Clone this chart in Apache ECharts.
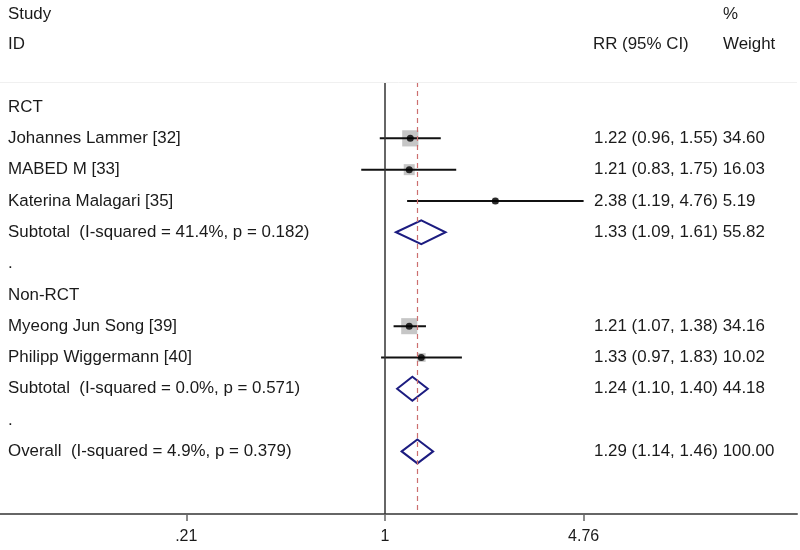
<!DOCTYPE html>
<html><head><meta charset="utf-8">
<script src="https://cdn.jsdelivr.net/npm/echarts@6/dist/echarts.min.js"></script>
<style>html,body{margin:0;padding:0;background:#fff}#c{width:800px;height:550px}</style>
</head><body><div id="c"></div>
<script>
// ---- data ----
const studies = [
  "RCT",
  "Johannes Lammer [32]",
  "MABED M [33]",
  "Katerina Malagari [35]",
  "Subtotal  (I-squared = 41.4%, p = 0.182)",
  ".",
  "Non-RCT",
  "Myeong Jun Song [39]",
  "Philipp Wiggermann [40]",
  "Subtotal  (I-squared = 0.0%, p = 0.571)",
  ".",
  "Overall  (I-squared = 4.9%, p = 0.379)"
];
const rowType = ["group","study","study","study","subtotal","blank","group","study","study","subtotal","blank","overall"];
const rr     = [null, 1.22, 1.21, 2.38, 1.33, null, null, 1.21, 1.33, 1.24, null, 1.29];
const lower  = [null, 0.96, 0.83, 1.19, 1.09, null, null, 1.07, 0.97, 1.10, null, 1.14];
const upper  = [null, 1.55, 1.75, 4.76, 1.61, null, null, 1.38, 1.83, 1.40, null, 1.46];
const weight = [null, 34.60, 16.03, 5.19, 55.82, null, null, 34.16, 10.02, 44.18, null, 100.00];
const overallRR = 1.29;
const tickValues = [0.21, 1, 4.76];
const tickLabels = [".21", "1", "4.76"];

// ---- build ----
const FONT = '"Liberation Sans", Arial, sans-serif';
const FS = 16.9;
const TXT = '#1a1a1a';

const studyIdx = rowType.map((t,i)=>t==='study'?i:-1).filter(i=>i>=0);
const diaIdx = rowType.map((t,i)=>(t==='subtotal'||t==='overall')?i:-1).filter(i=>i>=0);

const ciData = studyIdx.map(i=>[lower[i], upper[i], i]);
const sqData = studyIdx.map(i=>[rr[i], i, weight[i]]);
const dotData = studyIdx.map(i=>[rr[i], i]);
const diaData = diaIdx.map(i=>[lower[i], rr[i], upper[i], i]);
const rightText = studies.map((s,i)=> rr[i]==null ? '' :
  rr[i].toFixed(2)+' ('+lower[i].toFixed(2)+', '+upper[i].toFixed(2)+') '+weight[i].toFixed(2));
const textData = studies.map((s,i)=>[i]);

const chart = echarts.init(document.getElementById('c'), null, {renderer:'canvas'});
chart.setOption({
  animation: false,
  backgroundColor: '#fff',
  grid: {left: 0, right: 3, top: 82, bottom: 36},
  xAxis: {
    type: 'log', logBase: Math.E, min: 0.04862, max: 25.44,
    axisLine: {show: true, onZero: false, lineStyle: {color: '#666', width: 2}},
    axisTick: {show: true, length: 7, lineStyle: {color: '#666', width: 1.5}, customValues: tickValues},
    axisLabel: {show: true, margin: 15, color: TXT, fontSize: 16, fontFamily: FONT,
      customValues: tickValues,
      formatter: v => { const k = tickValues.findIndex(t=>Math.abs(t-v)<1e-6); return k>=0?tickLabels[k]:''; }},
    splitLine: {show: false}, minorTick: {show: false}
  },
  yAxis: {type: 'value', inverse: true, min: -0.8, max: 13.0, show: false},
  graphic: [
    {type:'text', x:8, y:14, style:{text:'Study', fill:TXT, fontSize:FS, fontFamily:FONT, verticalAlign:'middle'}},
    {type:'text', x:8, y:44, style:{text:'ID', fill:TXT, fontSize:FS, fontFamily:FONT, verticalAlign:'middle'}},
    {type:'text', x:723, y:14, style:{text:'%', fill:TXT, fontSize:FS, fontFamily:FONT, verticalAlign:'middle'}},
    {type:'text', x:593, y:44, style:{text:'RR (95% CI)', fill:TXT, fontSize:FS, fontFamily:FONT, verticalAlign:'middle'}},
    {type:'text', x:723, y:44, style:{text:'Weight', fill:TXT, fontSize:FS, fontFamily:FONT, verticalAlign:'middle'}}
  ],
  series: [
    {
      type: 'custom', name: 'ref', data: [], silent: true,
      renderItem: () => null,
      markLine: {
        symbol: 'none', silent: true, label: {show: false},
        data: [
          {xAxis: 1, lineStyle: {color: '#333', width: 1.5, type: 'solid'}},
          {xAxis: overallRR, lineStyle: {color: '#cc6f6f', width: 1.2, type: [5, 4], opacity: 1}},
          {yAxis: -0.8, lineStyle: {color: '#f0f0f0', width: 1, type: 'solid'}}
        ]
      }
    },
    {
      type: 'scatter', name: 'weight', data: sqData, symbol: 'rect',
      symbolSize: v => Math.sqrt(v[2]) * 2.75,
      itemStyle: {color: '#b8b8b8'}, silent: true, z: 2
    },
    {
      type: 'custom', name: 'ci', data: ciData, silent: true, z: 3,
      encode: {x: [0, 1], y: 2},
      renderItem: (params, api) => {
        const p1 = api.coord([api.value(0), api.value(2)]);
        const p2 = api.coord([api.value(1), api.value(2)]);
        return {type: 'line', shape: {x1: p1[0], y1: p1[1], x2: p2[0], y2: p2[1]},
          style: {stroke: '#111', lineWidth: 2}};
      }
    },
    {
      type: 'scatter', name: 'est', data: dotData, symbol: 'circle', symbolSize: 7,
      itemStyle: {color: '#000'}, silent: true, z: 4
    },
    {
      type: 'custom', name: 'diamond', data: diaData, silent: true, z: 4,
      encode: {x: [0, 1, 2], y: 3},
      renderItem: (params, api) => {
        const r = api.value(3);
        const a = api.coord([api.value(0), r]);
        const m = api.coord([api.value(1), r]);
        const b = api.coord([api.value(2), r]);
        const h = 12;
        return {type: 'polygon', shape: {points: [[a[0], a[1]], [m[0], m[1]-h], [b[0], b[1]], [m[0], m[1]+h]]},
          style: {fill: '#fff', stroke: '#1c1c80', lineWidth: 2}};
      }
    },
    {
      type: 'custom', name: 'text', data: textData, silent: true, z: 5,
      encode: {y: 0}, clip: false,
      renderItem: (params, api) => {
        const i = api.value(0);
        const y = api.coord([1, i])[1];
        const x0 = params.coordSys.x;
        const kids = [{type: 'text', x: x0 + 8, y: y,
          style: {text: studies[i], fill: TXT, fontSize: FS, fontFamily: FONT, verticalAlign: 'middle', align: 'left'}}];
        if (rightText[i]) kids.push({type: 'text', x: x0 + 594, y: y,
          style: {text: rightText[i], fill: TXT, fontSize: FS, fontFamily: FONT, verticalAlign: 'middle', align: 'left'}});
        return {type: 'group', children: kids};
      }
    }
  ]
});
</script>
</body></html>
